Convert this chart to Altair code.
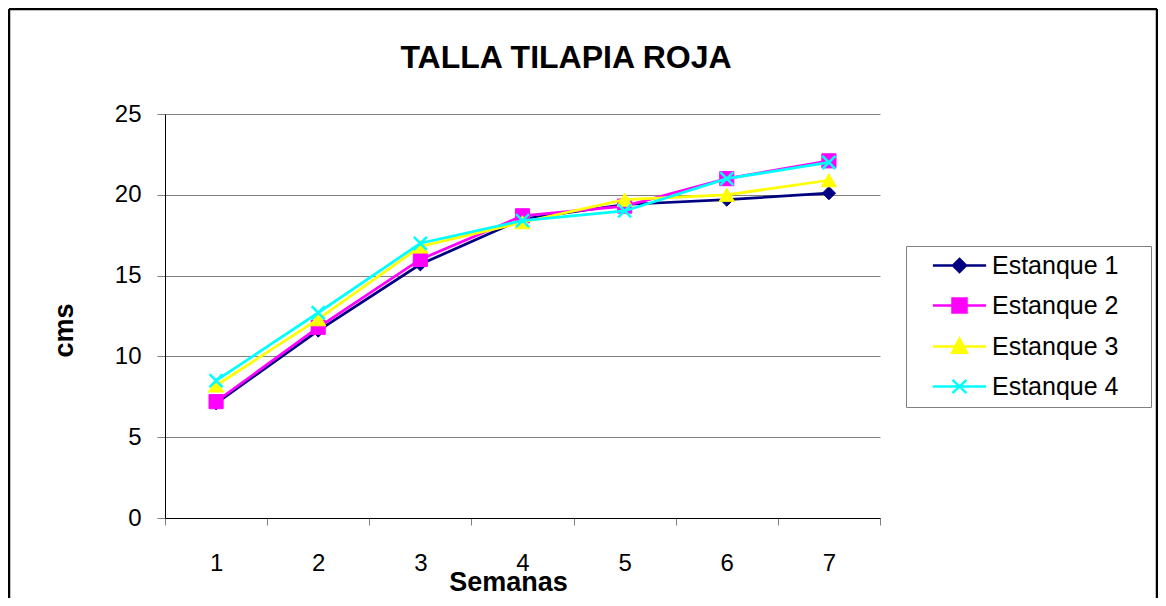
import altair as alt
import pandas as pd

TITLE = "TALLA TILAPIA ROJA"
X_TITLE = "Semanas"
Y_TITLE = "cms"
SEMANAS = [1, 2, 3, 4, 5, 6, 7]
SERIES = ["Estanque 1", "Estanque 2", "Estanque 3", "Estanque 4"]
EST1 = [7.1, 11.6, 15.7, 18.5, 19.4, 19.7, 20.1]
EST2 = [7.2, 11.8, 16.0, 18.7, 19.3, 21.0, 22.1]
EST3 = [8.2, 12.3, 16.8, 18.3, 19.7, 20.0, 20.9]
EST4 = [8.5, 12.7, 17.0, 18.4, 19.0, 21.0, 22.0]
Y_TICKS = [0, 5, 10, 15, 20, 25]
X_TICKS = [0.5, 1, 1.5, 2, 2.5, 3, 3.5, 4, 4.5, 5, 5.5, 6, 6.5, 7, 7.5]
COLORS = ["#000080", "#FF00FF", "#FFFF00", "#00FFFF"]

FONT = "Liberation Sans"
GRAY = "#808080"
W, H = 715, 404

SHAPES_PT = ["diamond", "square", "triangle-up", "M-1,-1L1,1M-1,1L1,-1"]
SIZES_PT = [175, 200, 230, 170]
STROKES_PT = [1, 1, 1, 2.5]
LEGEND_SHAPES = [
    "M-3.8,0L3.8,0M0,-0.93L0.93,0L0,0.93L-0.93,0Z",
    "M-3.8,0L3.8,0M-1,-1L1,-1L1,1L-1,1Z",
    "M-3.8,0L3.8,0M0,-1.1L1.05,0.9L-1.05,0.9Z",
    "M-3.8,0L3.8,0M-1,-0.95L1,0.95M-1,0.95L1,-0.95",
]

rows = []
for name, vals in zip(SERIES, [EST1, EST2, EST3, EST4]):
    for w, v in zip(SEMANAS, vals):
        rows.append({"semana": w, "cms": v, "serie": name})
df = pd.DataFrame(rows)

x_enc = alt.X(
    "semana:Q",
    scale=alt.Scale(domain=[0.5, 7.5], nice=False, zero=False),
    axis=alt.Axis(
        values=X_TICKS, title=X_TITLE, grid=False,
        labelExpr="datum.value % 1 === 0 ? format(datum.value, 'd') : ''",
        labelOverlap=False, labelFlush=False,
        tickSize=7, tickColor=GRAY,
        tickOpacity={"condition": {"test": "datum.value % 1 === 0", "value": 0}, "value": 1},
        domainColor="black", labelFontSize=24, labelColor="black",
        labelPadding=45, labelBaseline="alphabetic",
        titleFontSize=27, titleFontWeight="bold", titleColor="black",
        titleX=343, titleY=72, titleBaseline="alphabetic", titleAlign="center",
    ),
)
y_enc = alt.Y(
    "cms:Q",
    scale=alt.Scale(domain=[0, 25], nice=False),
    axis=alt.Axis(
        values=Y_TICKS, title=Y_TITLE, grid=True, gridColor=GRAY,
        domainColor="black", tickColor=GRAY, tickSize=8,
        labelFontSize=24, labelPadding=16, labelColor="black",
        titleFontSize=27, titleFontWeight="bold", titleColor="black",
        titleX=-93, titleY=216, titleAngle=270,
        titleBaseline="alphabetic", titleAlign="center",
    ),
)

base = alt.Chart(df).encode(x=x_enc, y=y_enc)

layers = []
for name, c, shp, sz, sw in zip(SERIES, COLORS, SHAPES_PT, SIZES_PT, STROKES_PT):
    sub = base.transform_filter(alt.datum.serie == name)
    layers.append(sub.mark_line(color=c, strokeWidth=2.75))
    layers.append(sub.mark_point(shape=shp, filled=True, fill=c, stroke=c,
                                 strokeWidth=sw, size=sz, opacity=1))

PAD_CHARS = "\u00a0\u2800"
legend = alt.Legend(
    title=None, orient="none", legendX=741, legendY=132, direction="vertical",
    padding=7, strokeColor=GRAY, fillColor="white", cornerRadius=0,
    labelFont=FONT, labelFontSize=25, labelColor="black", labelLimit=400,
    labelExpr="datum.label + '" + PAD_CHARS + "'",
    symbolSize=196, symbolStrokeWidth=2.5, symbolOffset=34, labelOffset=20,
    rowPadding=14, symbolOpacity=1,
)
leg_layer = base.transform_filter("false").mark_point(filled=True, opacity=1).encode(
    color=alt.Color("serie:N", scale=alt.Scale(domain=SERIES, range=COLORS), legend=legend),
    stroke=alt.Stroke("serie:N", scale=alt.Scale(domain=SERIES, range=COLORS), legend=legend),
    shape=alt.Shape("serie:N", scale=alt.Scale(domain=SERIES, range=LEGEND_SHAPES), legend=legend),
)

one = pd.DataFrame({"t": [TITLE]})
title_layer = alt.Chart(one).mark_text(
    font=FONT, fontSize=32, fontWeight="bold", color="black",
    align="center", baseline="alphabetic",
).encode(x=alt.value(401), y=alt.value(-46), text="t:N")

frame = alt.Chart(one)
frame_left = frame.mark_rule(color="black", strokeWidth=2.5).encode(
    x=alt.value(-156), y=alt.value(-105), y2=alt.value(484))
frame_top = frame.mark_rule(color="black", strokeWidth=2.5).encode(
    x=alt.value(-156), x2=alt.value(992), y=alt.value(-105))
frame_right = frame.mark_rule(color="black", strokeWidth=2.5).encode(
    x=alt.value(992), y=alt.value(-105), y2=alt.value(484))

chart = alt.layer(
    frame_left, frame_top, frame_right, *layers, leg_layer, title_layer
).properties(
    width=W, height=H,
    autosize=alt.AutoSizeParams(type="none"),
    padding={"left": 157, "top": 106, "right": 278, "bottom": 80},
    background="white",
).configure_view(stroke=None).configure_axis(
    labelFont=FONT, titleFont=FONT,
).configure_text(font=FONT)

chart.save("out.html", embed_options={"renderer": "svg", "actions": False})
